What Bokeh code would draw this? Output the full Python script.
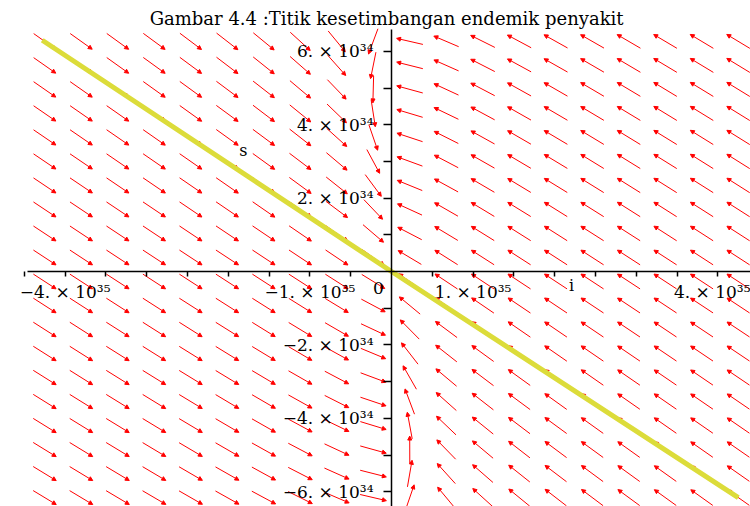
import json
import numpy as np
from bokeh.plotting import figure
from bokeh.models import Arrow, NormalHead, ColumnDataSource, Label, FixedTicker, CustomJSTickFormatter
from bokeh.embed import file_html
from bokeh.resources import INLINE

# ---------------- data (i in units of 1e35, s in units of 1e34) ----------------
title_text = "Gambar 4.4 :Titik kesetimbangan endemik penyakit"
x_axis_name = "i"
y_axis_name = "s"

# linear system read from the direction field: di/dt = a_ii*i + a_is*s ; ds/dt = a_si*i + a_ss*s
a_ii, a_is, a_si, a_ss = -1.0, -0.046, 1.45, -0.01

# direction-field grid (20 x 20, as in DEplot)
grid_i = np.linspace(-4.25, 4.25, 20)
grid_s = np.linspace(-6.16, 6.27, 20)

# solution curve (yellow)
curve_i = [-4.28, 0.0, 4.25]
curve_s = [6.30, 0.0, -6.16]

x_tick_values = [-4.5, -4.0, -3.5, -3.0, -2.5, -2.0, -1.5, -1.0, -0.5,
                 0.5, 1.0, 1.5, 2.0, 2.5, 3.0, 3.5, 4.0, 4.5]
x_tick_labels = {-4.0: "\u22124. \u00d7 10\u00b3\u2075", -1.0: "\u22121. \u00d7 10\u00b3\u2075",
                 1.0: "1. \u00d7 10\u00b3\u2075", 4.0: "4. \u00d7 10\u00b3\u2075"}
y_tick_values = [-6, -5, -4, -3, -2, -1, 1, 2, 3, 4, 5, 6]
y_tick_labels = {6: "6. \u00d7 10\u00b3\u2074", 4: "4. \u00d7 10\u00b3\u2074", 2: "2. \u00d7 10\u00b3\u2074",
                 -2: "\u22122. \u00d7 10\u00b3\u2074", -4: "\u22124. \u00d7 10\u00b3\u2074",
                 -6: "\u22126. \u00d7 10\u00b3\u2074"}

# ---------------- layout ----------------
W, H = 750, 506
x0_px, y0_px = 391.0, 271.0          # origin position inside the frame (px)
kx, ky = 81.6, 36.7                  # px per unit
x_start, x_end = -x0_px / kx, (W - x0_px) / kx
y_end, y_start = y0_px / ky, -(H - y0_px) / ky

p = figure(width=W, height=H, x_range=(x_start, x_end), y_range=(y_start, y_end),
           output_backend="svg", toolbar_location=None, min_border=0,
           outline_line_color=None, background_fill_color="white")
p.grid.visible = False

FONT = "DejaVu Serif"

# axes crossing at the origin
xa = p.xaxis[0]
ya = p.yaxis[0]
xa.fixed_location = 0
ya.fixed_location = 0
xa.bounds = (-4.46, 4.6)
ya.bounds = (-6.6, 6.6)
for ax in (xa, ya):
    ax.axis_line_color = "black"
    ax.axis_line_width = 1.5
    ax.major_tick_line_color = "black"
    ax.major_tick_line_width = 1.5
    ax.minor_tick_line_color = None
    ax.major_tick_in = 0
    ax.major_label_text_font = FONT
    ax.major_label_text_font_size = "17px"
    ax.major_label_text_color = "black"
xa.major_tick_out = 5
ya.major_tick_out = 8
xa.major_label_standoff = 5
ya.major_label_standoff = 10
xa.ticker = FixedTicker(ticks=x_tick_values)
ya.ticker = FixedTicker(ticks=y_tick_values)

def fmt(labels):
    m = {f"{float(k):g}": v for k, v in labels.items()}
    return CustomJSTickFormatter(code="const m = " + json.dumps(m) +
                                 "; const k = String(tick); return (k in m) ? m[k] : '';")
xa.formatter = fmt(x_tick_labels)
ya.formatter = fmt(y_tick_labels)

# direction field arrows
G_i, G_s = np.meshgrid(grid_i, grid_s)
gi, gs = G_i.ravel(), G_s.ravel()
di = a_ii * gi + a_is * gs
ds = a_si * gi + a_ss * gs
px, py = di * kx, ds * ky
norm = np.hypot(px, py)
L = 27.0
hx = (px / norm) * (L / 2) / kx
hy = (py / norm) * (L / 2) / ky
src = ColumnDataSource(dict(x0=gi - hx, y0=gs - hy, x1=gi + hx, y1=gs + hy))
p.add_layout(Arrow(end=NormalHead(size=4, fill_color="red", line_color="red", line_width=1),
                   x_start="x0", y_start="y0", x_end="x1", y_end="y1", source=src,
                   line_color="red", line_width=1, level="underlay"))

# solution curve
p.line(curve_i, curve_s, line_color="#DCDC3A", line_width=5)

# texts
def lab(x, y, t, size="17px", align="center"):
    p.add_layout(Label(x=x, y=y, text=t, text_font=FONT, text_font_size=size,
                       text_align=align, text_baseline="middle", text_color="black"))

lab(-0.06, (y0_px - 18) / ky, title_text, size="18px")
lab(-1.814, 3.30, y_axis_name, size="16px")
lab(2.206, -0.381, x_axis_name, size="16px")
lab(-0.159, -0.436, "0", size="17px")

open("out.html", "w").write(file_html(p, INLINE))
